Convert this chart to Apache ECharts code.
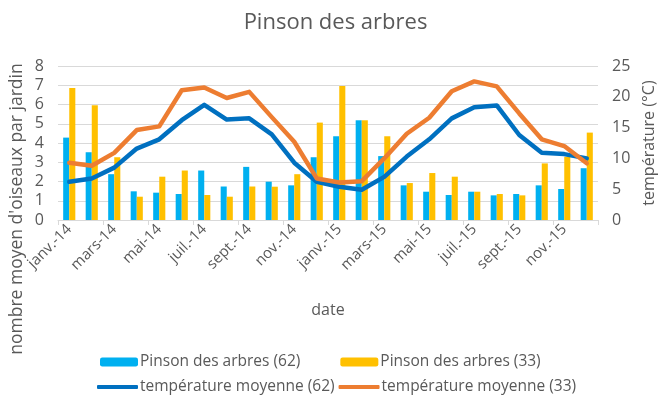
<!DOCTYPE html>
<html>
<head>
<meta charset="utf-8">
<script src="https://cdn.jsdelivr.net/npm/echarts@6/dist/echarts.min.js"></script>
<style>html,body{margin:0;padding:0;background:#fff}#c{width:671px;height:403px}</style>
</head>
<body>
<div id="c"></div>
<script>
var categories = ['janv.-14','févr.-14','mars-14','avr.-14','mai-14','juin-14','juil.-14','août-14','sept.-14','oct.-14','nov.-14','déc.-14',
                  'janv.-15','févr.-15','mars-15','avr.-15','mai-15','juin-15','juil.-15','août-15','sept.-15','oct.-15','nov.-15','déc.-15'];
var pinson62 = [4.28,3.52,2.38,1.49,1.42,1.35,2.57,1.74,2.76,1.99,1.80,3.26, 4.35,5.18,3.32,1.80,1.47,1.30,1.47,1.28,1.35,1.80,1.61,2.69];
var pinson33 = [6.86,5.96,3.26,1.21,2.25,2.57,1.30,1.21,1.74,1.73,2.38,5.06, 6.96,5.18,4.35,1.92,2.44,2.25,1.47,1.35,1.28,2.94,3.28,4.54];
var temp62 = [6.2,6.75,8.5,11.6,13.1,16.2,18.7,16.3,16.5,13.9,9.3,6.2, 5.4,4.9,7.0,10.3,13.1,16.5,18.3,18.6,13.8,10.9,10.7,10.0];
var temp33 = [9.3,8.8,10.9,14.6,15.2,21.06,21.5,19.8,20.8,16.7,12.7,6.75, 6.1,6.3,10.0,14.0,16.6,20.9,22.5,21.7,17.3,13.1,12.0,9.2];
var leftTicks = {min:0, max:8, interval:1};
var rightTicks = {min:0, max:25, interval:5};

var FONT = 'Open Sans';
var GRAY = '#595959';
var chart = echarts.init(document.getElementById('c'));
chart.setOption({
  animation:false,
  textStyle:{fontFamily:FONT},
  title:{text:'Pinson des arbres', left:'center', top:7, textStyle:{fontFamily:FONT, fontSize:22, fontWeight:'normal', color:GRAY}},
  grid:{left:58, right:73, top:66, bottom:183},
  legend:[
    {data:[{name:'Pinson des arbres (62)'},{name:'Pinson des arbres (33)'}], left:95, top:349, itemWidth:38, itemHeight:9, itemGap:40,
     textStyle:{fontFamily:FONT, fontSize:15.5, color:GRAY, padding:[0,0,0,-3]}},
    {data:[{name:'température moyenne (62)', icon:'roundRect'},{name:'température moyenne (33)', icon:'roundRect'}], left:92, top:374, itemWidth:41, itemHeight:4, itemGap:4,
     textStyle:{fontFamily:FONT, fontSize:15.5, color:GRAY, padding:[0,0,0,-3]}}
  ],
  xAxis:{type:'category', data:categories, name:'date', nameLocation:'middle', nameGap:82,
    nameTextStyle:{fontFamily:FONT, fontSize:16, color:GRAY},
    axisLine:{lineStyle:{color:'#d9d9d9'}},
    axisTick:{show:true, interval:1, length:5, lineStyle:{color:'#d9d9d9'}},
    axisLabel:{interval:1, rotate:45, fontFamily:FONT, fontSize:15, color:GRAY, margin:7}},
  yAxis:[
    {type:'value', min:leftTicks.min, max:leftTicks.max, interval:leftTicks.interval,
     axisLine:{show:false}, axisTick:{show:false},
     axisLabel:{fontFamily:FONT, fontSize:16, color:GRAY, margin:14},
     splitLine:{lineStyle:{color:'#d9d9d9'}}},
    {type:'value', min:rightTicks.min, max:rightTicks.max, interval:rightTicks.interval, position:'right',
     name:'température (°C)', nameLocation:'middle', nameRotate:90, nameGap:40,
     nameTextStyle:{fontFamily:FONT, fontSize:16, color:GRAY},
     axisLine:{show:false}, axisTick:{show:false},
     axisLabel:{fontFamily:FONT, fontSize:16, color:GRAY, margin:14},
     splitLine:{show:false}}
  ],
  graphic:[{type:'text', x:8, y:209, rotation:Math.PI/2,
    style:{text:"nombre moyen d'oiseaux par jardin", font:'17.5px "Open Sans"', fill:GRAY, align:'center', verticalAlign:'top'}}],
  series:[
    {name:'Pinson des arbres (62)', type:'bar', data:pinson62, itemStyle:{color:'#00B0F0'}, barGap:'0%', barCategoryGap:'46%'},
    {name:'Pinson des arbres (33)', type:'bar', data:pinson33, itemStyle:{color:'#FFC000'}, barGap:'0%', barCategoryGap:'46%'},
    {name:'température moyenne (62)', type:'line', yAxisIndex:1, data:temp62, showSymbol:false, symbol:'none',
     lineStyle:{color:'#0070C0', width:4.5, cap:'round', join:'round'}, itemStyle:{color:'#0070C0'}},
    {name:'température moyenne (33)', type:'line', yAxisIndex:1, data:temp33, showSymbol:false, symbol:'none',
     lineStyle:{color:'#ED7D31', width:4.5, cap:'round', join:'round'}, itemStyle:{color:'#ED7D31'}}
  ]
});
</script>
</body>
</html>
